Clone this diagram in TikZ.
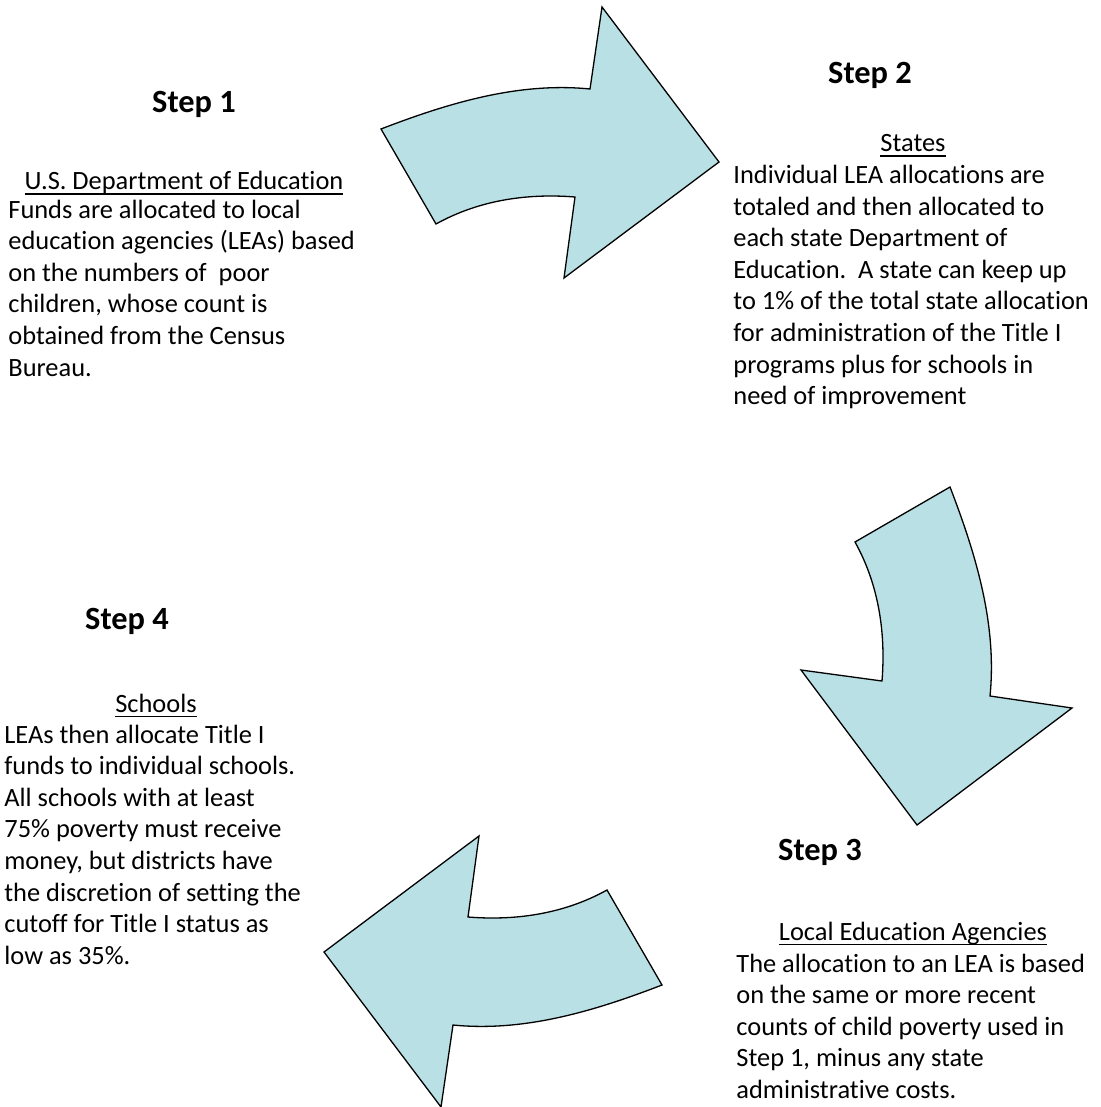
\documentclass[tikz,border=0pt]{standalone}
\usepackage{fontspec}
\setmainfont{Carlito}[Ligatures=NoCommon]
\definecolor{arrowblue}{RGB}{185,224,228}
\newsavebox{\titlebox}
\newcommand{\titleline}[1]{\sbox{\titlebox}{#1}\makebox[0pt][l]{\rule[-2.4pt]{\wd\titlebox}{0.65pt}}\usebox{\titlebox}}

\begin{document}
\begin{tikzpicture}[x=0.5pt,y=-0.5pt,
  stephead/.style={anchor=base,inner sep=0pt,font=\fontsize{16.2}{19}\selectfont\bfseries},
  steptitle/.style={anchor=base,inner sep=0pt,font=\fontsize{13.2}{15.8}\selectfont},
  stepbody/.style={anchor=base west,inner sep=0pt,align=left,font=\fontsize{13.2}{15.8}\selectfont},
  bentarrow/.style={draw=black,line width=0.65pt,fill=arrowblue,line join=miter}]
\useasboundingbox (0,0) rectangle (1100,1107);
\draw[bentarrow] (381,129) .. controls (451,102) and (520,82) .. (590,89) -- (602,7) -- (719,162) -- (564,278) -- (575,197) .. controls (530,193.4) and (481,199) .. (436,224) -- cycle;
\draw[bentarrow] (950,487) .. controls (977,557) and (997,626) .. (990,696) -- (1072,708) -- (917,825) -- (801,670) -- (882,681) .. controls (885.6,636) and (880,587) .. (855,542) -- cycle;
\draw[bentarrow] (662,985) .. controls (592,1012) and (523,1032) .. (453,1025) -- (441,1107) -- (324,952) -- (479,836) -- (468,917) .. controls (513,920.6) and (562,915) .. (607,890) -- cycle;
\node[stephead] (s1_head) at (194,113) {Step 1};
\node[steptitle] (s1_title) at (184,190) {\titleline{U.S. Department of Education}};
\node[stepbody] (s1_body) at (8,376) {Funds are allocated to local\\education agencies (LEAs) based\\on the numbers of \ poor\\children, whose count is\\obtained from the Census\\Bureau.};
\node[stephead] (s2_head) at (870,84) {Step 2};
\node[steptitle] (s2_title) at (913,152) {\titleline{States}};
\node[stepbody] (s2_body) at (733,404.7) {Individual LEA allocations are\\totaled and then allocated to\\each state Department of\\Education.\ \ A state can keep up\\to 1\% of the total state allocation\\for administration of the Title I\\programs plus for schools in\\need of improvement};
\node[stephead] (s3_head) at (820,860) {Step 3};
\node[steptitle] (s3_title) at (913,940) {\titleline{Local Education Agencies}};
\node[stepbody] (s3_body) at (736,1098.4) {The allocation to an LEA is based\\on the same or more recent\\counts of child poverty used in\\Step 1, minus any state\\administrative costs.};
\node[stephead] (s4_head) at (127,629) {Step 4};
\node[steptitle] (s4_title) at (156,712) {\titleline{Schools}};
\node[stepbody] (s4_body) at (4,964.2) {LEAs then allocate Title I\\funds to individual schools.\\All schools with at least\\75\% poverty must receive\\money, but districts have\\the discretion of setting the\\cutoff for Title I status as\\low as 35\%.};
\end{tikzpicture}
\end{document}
